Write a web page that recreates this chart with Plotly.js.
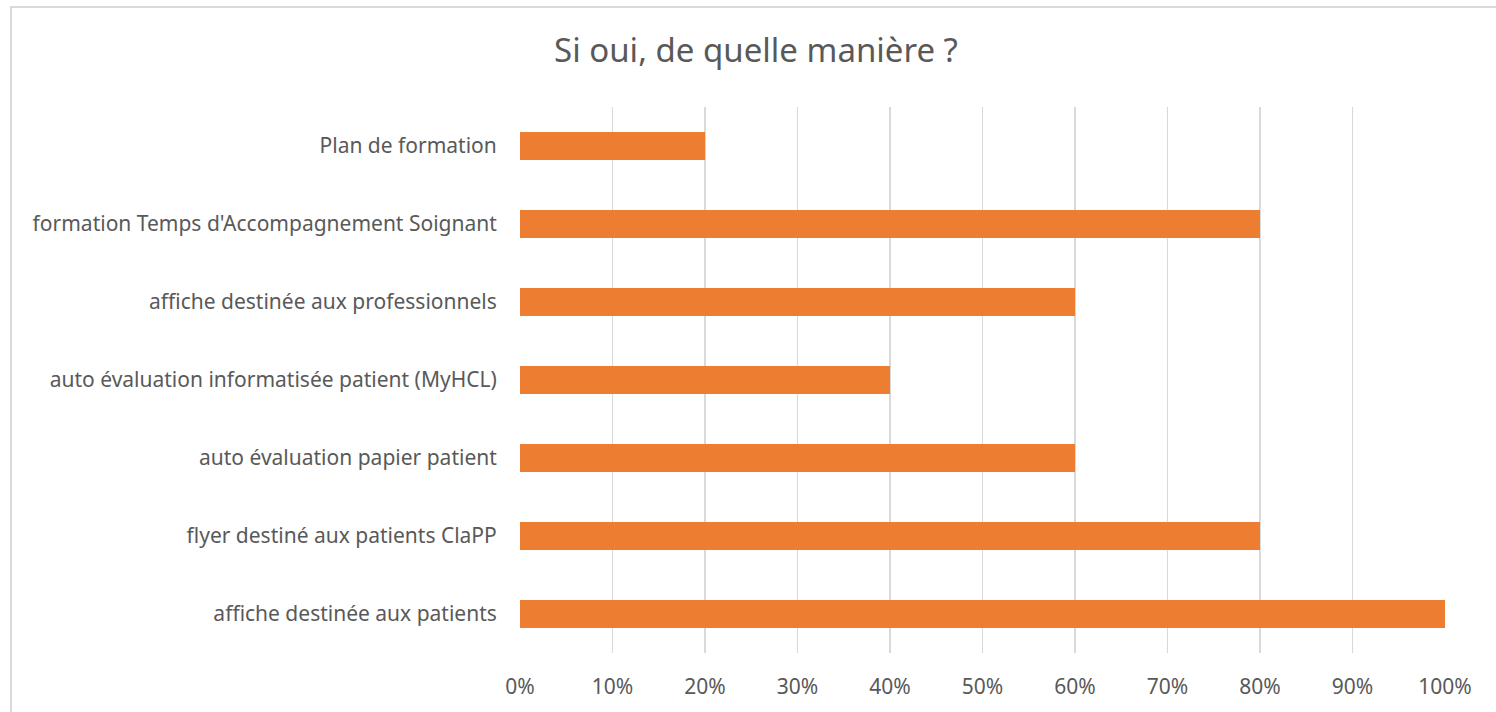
<!DOCTYPE html>
<html>
<head>
<meta charset="utf-8">
<script src="https://cdn.plot.ly/plotly-3.0.1.min.js"></script>
<style>
  html, body { margin: 0; padding: 0; background: #ffffff; overflow: hidden; }
  #chart { position: absolute; left: 0; top: 0; width: 1496px; height: 712px; }
  #frame { position: absolute; left: 10px; top: 6px; width: 1600px; height: 800px;
           border: 2px solid #d9d9d9; pointer-events: none; box-sizing: border-box; }
</style>
</head>
<body>
<div id="chart"></div>
<div id="frame"></div>
<script>
// Categories (bottom to top as drawn)
const categories = [
  "affiche destinée aux patients",
  "flyer destiné aux patients ClaPP",
  "auto évaluation papier patient",
  "auto évaluation informatisée patient (MyHCL)",
  "affiche destinée aux professionnels",
  "formation Temps d'Accompagnement Soignant",
  "Plan de formation"
];
const values = [1.0, 0.8, 0.6, 0.4, 0.6, 0.8, 0.2];
const xTickVals = [0, 0.1, 0.2, 0.3, 0.4, 0.5, 0.6, 0.7, 0.8, 0.9, 1.0];
const xTickText = ["0%", "10%", "20%", "30%", "40%", "50%", "60%", "70%", "80%", "90%", "100%"];
const titleText = "Si oui, de quelle manière ?";

const font = "Noto Sans, Open Sans, DejaVu Sans, sans-serif";

const data = [{
  type: "bar",
  orientation: "h",
  x: values,
  y: categories,
  marker: { color: "#ED7D31" },
  width: 0.36,
  hoverinfo: "none"
}];

const layout = {
  width: 1496,
  height: 712,
  paper_bgcolor: "rgba(0,0,0,0)",
  plot_bgcolor: "rgba(0,0,0,0)",
  margin: { l: 520, r: 51, t: 107, b: 59, pad: 0 },
  showlegend: false,
  title: {
    text: titleText,
    font: { family: font, size: 33, color: "#595959" },
    x: 756 / 1496, xref: "container", xanchor: "center",
    y: 1 - 50 / 712, yref: "container", yanchor: "middle"
  },
  xaxis: {
    range: [0, 1.0],
    tickvals: xTickVals,
    ticktext: xTickText,
    showgrid: true,
    gridcolor: "#d9d9d9",
    gridwidth: 1.5,
    zeroline: false,
    showline: false,
    ticks: "outside",
    ticklen: 15,
    tickcolor: "rgba(0,0,0,0)",
    tickfont: { family: font, size: 21, color: "#595959" },
    fixedrange: true
  },
  yaxis: {
    type: "category",
    categoryorder: "array",
    categoryarray: categories,
    range: [-0.5, 6.5],
    showgrid: false,
    zeroline: false,
    showline: false,
    ticks: "outside",
    ticklen: 18,
    tickcolor: "rgba(0,0,0,0)",
    tickfont: { family: font, size: 21, color: "#595959" },
    fixedrange: true
  }
};

Plotly.newPlot("chart", data, layout, { displayModeBar: false, staticPlot: true });
</script>
</body>
</html>
